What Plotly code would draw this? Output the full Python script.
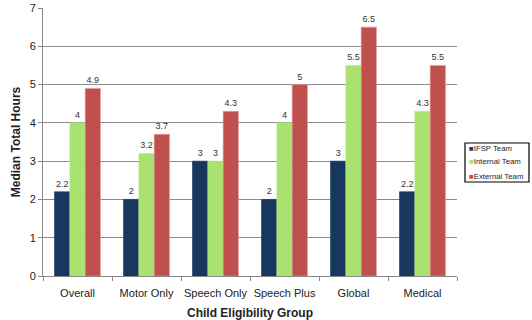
import plotly.graph_objects as go

categories = ["Overall", "Motor Only", "Speech Only", "Speech Plus", "Global", "Medical"]
ifsp = [2.2, 2, 3, 2, 3, 2.2]
internal = [4, 3.2, 3, 4, 5.5, 4.3]
external = [4.9, 3.7, 4.3, 5, 6.5, 5.5]
series_names = ["IFSP Team", "Internal Team", "External Team"]
colors = ["#17375E", "#A9E26F", "#C0504D"]
line_colors = ["#17375E", "#BDEB8F", "#E0A0A0"]

fig = go.Figure()
for name, vals, c, lc in zip(series_names, [ifsp, internal, external], colors, line_colors):
    fig.add_trace(go.Bar(
        x=categories, y=vals, name=name,
        marker=dict(color=c, line=dict(color=lc, width=0.6)),
        text=[f"{v:g}" for v in vals], textposition="outside",
        textfont=dict(size=9, color="#333333", family="Liberation Sans, Arial"),
        cliponaxis=False, showlegend=False,
    ))

# legend drawn as a bordered box with text entries
fig.add_shape(type="rect", xref="paper", yref="paper",
              x0=1.0193, x1=1.1739, y0=0.3507, y1=0.4963,
              line=dict(color="black", width=1.2), fillcolor="white")
row_y = [0.4739, 0.4254, 0.3731]
for name, c, yy in zip(series_names, colors, row_y):
    fig.add_annotation(
        xref="paper", yref="paper", x=1.0245, y=yy, xanchor="left", yanchor="middle",
        text=f"<span style='color:{c}'>■</span>{name}", showarrow=False,
        font=dict(size=7.8, color="#222222", family="Liberation Sans, Arial"),
    )

fig.update_layout(
    width=532, height=320,
    margin=dict(l=43, r=75, t=8, b=44),
    paper_bgcolor="white", plot_bgcolor="white",
    barmode="group", bargap=0.333, bargroupgap=0,
    font=dict(family="Liberation Sans, Arial", size=11, color="#222222"),
    showlegend=False,
    xaxis=dict(
        showline=True, linecolor="#888888", linewidth=1,
        ticks="outside", tickson="boundaries", ticklen=4, tickcolor="#888888",
        tickfont=dict(size=11), tickangle=0, automargin=False, ticklabelstandoff=7,
        title=dict(text="<b>Child Eligibility Group</b>", font=dict(size=12), standoff=12),
    ),
    yaxis=dict(
        range=[0, 7], dtick=1, showgrid=True, gridcolor="#8C8C8C", gridwidth=1,
        showline=True, linecolor="#888888", linewidth=1,
        ticks="outside", ticklen=4, tickcolor="#888888",
        tickfont=dict(size=11), automargin=False,
        zeroline=False,
        title=dict(text="<b>Median Total Hours</b>", font=dict(size=12), standoff=6),
    ),
)

fig.write_html("out.html")
